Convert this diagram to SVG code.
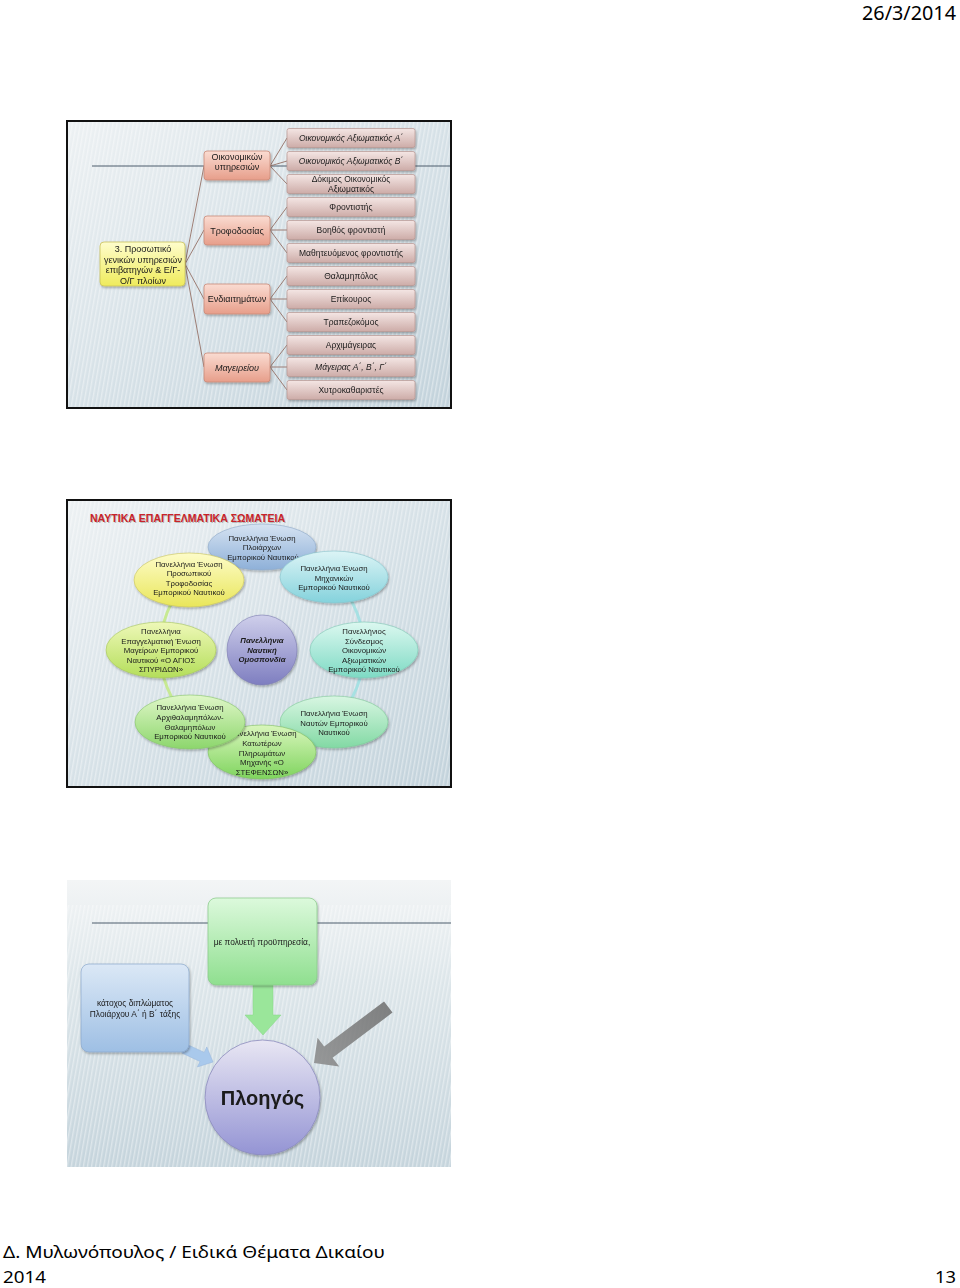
<svg xmlns="http://www.w3.org/2000/svg" width="960" height="1288" viewBox="0 0 960 1288">
<style>
.t{font-family:"Liberation Sans",Arial,sans-serif;fill:#1a1a1a;text-anchor:middle}
.s2{font-size:9px}
.s3{font-size:8.5px}
.se{font-size:7.8px}
.conn{stroke:#9c7d74;stroke-width:1;fill:none}
.deco{stroke:#4d5d6c;stroke-width:1}
.hdr{font-family:"Noto Sans","Liberation Sans",sans-serif;font-size:19px;fill:#000}
.ftr{font-family:"Noto Sans","Liberation Sans",sans-serif;font-size:17px;fill:#000}
</style>
<defs>
<linearGradient id="bg" x1="0" y1="0" x2="1" y2="1">
<stop offset="0" stop-color="#edf1f3"/><stop offset="0.5" stop-color="#d6e1e7"/><stop offset="1" stop-color="#c2d2db"/>
</linearGradient>
<linearGradient id="bg3" x1="0" y1="0" x2="0" y2="1">
<stop offset="0" stop-color="#f3f5f6"/><stop offset="0.35" stop-color="#dde6ea"/><stop offset="1" stop-color="#c5d4dc"/>
</linearGradient>
<pattern id="stripes" width="4" height="8" patternUnits="userSpaceOnUse" patternTransform="rotate(10)">
<rect width="1.4" height="8" fill="#ffffff" opacity="0.4"/>
</pattern>
<linearGradient id="g2" x1="0" y1="0" x2="0" y2="1"><stop offset="0" stop-color="#fadcd2"/><stop offset="1" stop-color="#e79e8a"/></linearGradient>
<linearGradient id="g3" x1="0" y1="0" x2="0" y2="1"><stop offset="0" stop-color="#f4e6e4"/><stop offset="1" stop-color="#cdaca8"/></linearGradient>
<linearGradient id="gr" x1="0" y1="0" x2="0" y2="1"><stop offset="0" stop-color="#fefdcc"/><stop offset="1" stop-color="#efeb5c"/></linearGradient>
<linearGradient id="eBlue" x1="0" y1="0" x2="0" y2="1"><stop offset="0" stop-color="#d6e3f2"/><stop offset="1" stop-color="#8eb0d8"/></linearGradient>
<linearGradient id="eYel" x1="0" y1="0" x2="0" y2="1"><stop offset="0" stop-color="#fdfcc8"/><stop offset="1" stop-color="#e9e65a"/></linearGradient>
<linearGradient id="eCyan" x1="0" y1="0" x2="0" y2="1"><stop offset="0" stop-color="#dcf4f6"/><stop offset="1" stop-color="#84d2dc"/></linearGradient>
<linearGradient id="eLime" x1="0" y1="0" x2="0" y2="1"><stop offset="0" stop-color="#eef8b8"/><stop offset="1" stop-color="#b4de5a"/></linearGradient>
<linearGradient id="ePur" x1="0" y1="0" x2="0" y2="1"><stop offset="0" stop-color="#cfcfeb"/><stop offset="1" stop-color="#7e7ec0"/></linearGradient>
<linearGradient id="eAqua" x1="0" y1="0" x2="0" y2="1"><stop offset="0" stop-color="#dcf8f0"/><stop offset="1" stop-color="#7edac4"/></linearGradient>
<linearGradient id="eGreen" x1="0" y1="0" x2="0" y2="1"><stop offset="0" stop-color="#e0f7c8"/><stop offset="1" stop-color="#8cd66c"/></linearGradient>
<linearGradient id="eMint" x1="0" y1="0" x2="0" y2="1"><stop offset="0" stop-color="#d8f6e2"/><stop offset="1" stop-color="#82d9a4"/></linearGradient>
<linearGradient id="eGreen2" x1="0" y1="0" x2="0" y2="1"><stop offset="0" stop-color="#d9f6bc"/><stop offset="1" stop-color="#7fd45e"/></linearGradient>
<linearGradient id="ring" x1="0" y1="0" x2="1" y2="0"><stop offset="0" stop-color="#c6ea86"/><stop offset="1" stop-color="#9fe0e6"/></linearGradient>
<linearGradient id="bGreen" x1="0" y1="0" x2="0" y2="1"><stop offset="0" stop-color="#dcf9dc"/><stop offset="1" stop-color="#8fdf8f"/></linearGradient>
<linearGradient id="bBlue" x1="0" y1="0" x2="0" y2="1"><stop offset="0" stop-color="#dbe8f6"/><stop offset="1" stop-color="#9ebfe4"/></linearGradient>
<linearGradient id="cPur" x1="0" y1="0" x2="0" y2="1"><stop offset="0" stop-color="#e8e6f3"/><stop offset="1" stop-color="#9494d4"/></linearGradient>
<linearGradient id="aGray" x1="0" y1="0" x2="1" y2="0"><stop offset="0" stop-color="#6e6e6e"/><stop offset="1" stop-color="#8a8a8a"/></linearGradient>
<filter id="sh" x="-20%" y="-20%" width="140%" height="160%"><feDropShadow dx="1" dy="1.5" stdDeviation="1" flood-color="#000" flood-opacity="0.3"/></filter>
</defs>

<rect width="960" height="1288" fill="#ffffff"/>
<text class="hdr" x="956" y="20" text-anchor="end" textLength="94" lengthAdjust="spacingAndGlyphs">26/3/2014</text>

<!-- ===== Slide 1 ===== -->
<g id="slide1">
<rect x="67" y="121" width="384" height="287" fill="url(#bg)"/>
<rect x="67" y="121" width="384" height="287" fill="url(#stripes)"/>
<line class="deco" x1="92" y1="166" x2="451" y2="166"/>
<g id="connectors1">
<line class="conn" x1="185" y1="264" x2="204" y2="166"/>
<line class="conn" x1="185" y1="264" x2="204" y2="230"/>
<line class="conn" x1="185" y1="264" x2="204" y2="299"/>
<line class="conn" x1="185" y1="264" x2="204" y2="367"/>
<line class="conn" x1="270" y1="166" x2="287" y2="138"/>
<line class="conn" x1="270" y1="166" x2="287" y2="161"/>
<line class="conn" x1="270" y1="166" x2="287" y2="184"/>
<line class="conn" x1="270" y1="230" x2="287" y2="207"/>
<line class="conn" x1="270" y1="230" x2="287" y2="230"/>
<line class="conn" x1="270" y1="230" x2="287" y2="253"/>
<line class="conn" x1="270" y1="299" x2="287" y2="276"/>
<line class="conn" x1="270" y1="299" x2="287" y2="299"/>
<line class="conn" x1="270" y1="299" x2="287" y2="322"/>
<line class="conn" x1="270" y1="367" x2="287" y2="345"/>
<line class="conn" x1="270" y1="367" x2="287" y2="367"/>
<line class="conn" x1="270" y1="367" x2="287" y2="390"/>
</g>
<g id="root" filter="url(#sh)">
<rect x="100" y="242" width="85" height="44" rx="4" fill="url(#gr)" stroke="#c9c25c" stroke-width="0.8"/>
<text class="t s2" x="143" y="252">3. Προσωπικό</text>
<text class="t s2" x="143" y="262.5">γενικών υπηρεσιών</text>
<text class="t s2" x="143" y="273">επιβατηγών &amp; Ε/Γ-</text>
<text class="t s2" x="143" y="283.5">Ο/Γ πλοίων</text>
</g>
<g id="l2-oik" filter="url(#sh)"><rect x="204" y="151" width="66" height="29" rx="3" fill="url(#g2)" stroke="#c98a78" stroke-width="0.8"/>
<text class="t s2" x="237" y="159.5">Οικονομικών</text><text class="t s2" x="237" y="170">υπηρεσιών</text></g>
<g id="l2-trof" filter="url(#sh)"><rect x="204" y="216" width="66" height="29" rx="3" fill="url(#g2)" stroke="#c98a78" stroke-width="0.8"/>
<text class="t s2" x="237" y="233.5">Τροφοδοσίας</text></g>
<g id="l2-end" filter="url(#sh)"><rect x="204" y="284" width="66" height="30" rx="3" fill="url(#g2)" stroke="#c98a78" stroke-width="0.8"/>
<text class="t s2" x="237" y="302">Ενδιαιτημάτων</text></g>
<g id="l2-mag" filter="url(#sh)"><rect x="204" y="353" width="66" height="29" rx="3" fill="url(#g2)" stroke="#c98a78" stroke-width="0.8"/>
<text class="t s2" x="237" y="370.5" font-style="italic">Μαγειρείου</text></g>

<g id="l3-1" filter="url(#sh)"><rect x="287" y="128.5" width="128" height="19" rx="2" fill="url(#g3)" stroke="#b89590" stroke-width="0.7"/><text class="t s3" x="351" y="141" font-style="italic">Οικονομικός Αξιωματικός Α΄</text></g>
<g id="l3-2" filter="url(#sh)"><rect x="287" y="151.5" width="128" height="19" rx="2" fill="url(#g3)" stroke="#b89590" stroke-width="0.7"/><text class="t s3" x="351" y="164" font-style="italic">Οικονομικός Αξιωματικός Β΄</text></g>
<g id="l3-3" filter="url(#sh)"><rect x="287" y="174.5" width="128" height="19" rx="2" fill="url(#g3)" stroke="#b89590" stroke-width="0.7"/><text class="t s3" x="351" y="182">Δόκιμος Οικονομικός</text><text class="t s3" x="351" y="191.5">Αξιωματικός</text></g>
<g id="l3-4" filter="url(#sh)"><rect x="287" y="197.5" width="128" height="19" rx="2" fill="url(#g3)" stroke="#b89590" stroke-width="0.7"/><text class="t s3" x="351" y="210">Φροντιστής</text></g>
<g id="l3-5" filter="url(#sh)"><rect x="287" y="220.5" width="128" height="19" rx="2" fill="url(#g3)" stroke="#b89590" stroke-width="0.7"/><text class="t s3" x="351" y="233">Βοηθός φροντιστή</text></g>
<g id="l3-6" filter="url(#sh)"><rect x="287" y="243.5" width="128" height="19" rx="2" fill="url(#g3)" stroke="#b89590" stroke-width="0.7"/><text class="t s3" x="351" y="256">Μαθητευόμενος φροντιστής</text></g>
<g id="l3-7" filter="url(#sh)"><rect x="287" y="266.5" width="128" height="19" rx="2" fill="url(#g3)" stroke="#b89590" stroke-width="0.7"/><text class="t s3" x="351" y="279">Θαλαμηπόλος</text></g>
<g id="l3-8" filter="url(#sh)"><rect x="287" y="289.5" width="128" height="19" rx="2" fill="url(#g3)" stroke="#b89590" stroke-width="0.7"/><text class="t s3" x="351" y="302">Επίκουρος</text></g>
<g id="l3-9" filter="url(#sh)"><rect x="287" y="312.5" width="128" height="19" rx="2" fill="url(#g3)" stroke="#b89590" stroke-width="0.7"/><text class="t s3" x="351" y="325">Τραπεζοκόμος</text></g>
<g id="l3-10" filter="url(#sh)"><rect x="287" y="335.5" width="128" height="19" rx="2" fill="url(#g3)" stroke="#b89590" stroke-width="0.7"/><text class="t s3" x="351" y="348">Αρχιμάγειρας</text></g>
<g id="l3-11" filter="url(#sh)"><rect x="287" y="357.5" width="128" height="19" rx="2" fill="url(#g3)" stroke="#b89590" stroke-width="0.7"/><text class="t s3" x="351" y="370" font-style="italic">Μάγειρας Α΄, Β΄, Γ΄</text></g>
<g id="l3-12" filter="url(#sh)"><rect x="287" y="380.5" width="128" height="19" rx="2" fill="url(#g3)" stroke="#b89590" stroke-width="0.7"/><text class="t s3" x="351" y="393">Χυτροκαθαριστές</text></g>
<rect x="67" y="121" width="384" height="287" fill="none" stroke="#111" stroke-width="2"/>
</g>

<!-- ===== Slide 2 ===== -->
<g id="slide2">
<rect x="67" y="500" width="384" height="287" fill="url(#bg)"/>
<rect x="67" y="500" width="384" height="287" fill="url(#stripes)"/>
<text x="91" y="523" font-family="'Liberation Sans',Arial,sans-serif" font-size="10.5" font-weight="bold" fill="#9a9a9a" opacity="0.6" textLength="195" lengthAdjust="spacingAndGlyphs">ΝΑΥΤΙΚΑ ΕΠΑΓΓΕΛΜΑΤΙΚΑ ΣΩΜΑΤΕΙΑ</text>
<text x="90" y="522" font-family="'Liberation Sans',Arial,sans-serif" font-size="10.5" font-weight="bold" fill="#c8232a" textLength="195" lengthAdjust="spacingAndGlyphs">ΝΑΥΤΙΚΑ ΕΠΑΓΓΕΛΜΑΤΙΚΑ ΣΩΜΑΤΕΙΑ</text>
<g id="connectors2">
<circle cx="262" cy="650" r="102" fill="none" stroke="url(#ring)" stroke-width="3" opacity="0.9"/>
</g>
<g id="n-ploiarchon" filter="url(#sh)"><ellipse cx="262" cy="547" rx="54" ry="23" fill="url(#eBlue)" stroke="#8fa9c8" stroke-width="0.6"/>
<text class="t se" x="262" y="540.5">Πανελλήνια Ένωση</text><text class="t se" x="262" y="550">Πλοιάρχων</text><text class="t se" x="263" y="559.5">Εμπορικού Ναυτικού</text></g>
<g id="n-michanikon" filter="url(#sh)"><ellipse cx="334" cy="577" rx="54" ry="26" fill="url(#eCyan)" stroke="#86c3cb" stroke-width="0.6"/>
<text class="t se" x="334" y="571">Πανελλήνια Ένωση</text><text class="t se" x="334" y="580.5">Μηχανικών</text><text class="t se" x="334" y="590">Εμπορικού Ναυτικού</text></g>
<g id="n-oikonomikon" filter="url(#sh)"><ellipse cx="364" cy="650" rx="54" ry="28" fill="url(#eAqua)" stroke="#80c8b6" stroke-width="0.6"/>
<text class="t se" x="364" y="634">Πανελλήνιος</text><text class="t se" x="364" y="644">Σύνδεσμος</text><text class="t se" x="364" y="653">Οικονομικών</text><text class="t se" x="364" y="663">Αξιωματικών</text><text class="t se" x="364" y="672">Εμπορικού Ναυτικού</text></g>
<g id="n-nauton" filter="url(#sh)"><ellipse cx="334" cy="722" rx="54" ry="26" fill="url(#eMint)" stroke="#80c898" stroke-width="0.6"/>
<text class="t se" x="334" y="716">Πανελλήνια Ένωση</text><text class="t se" x="334" y="725.5">Ναυτών Εμπορικού</text><text class="t se" x="334" y="735">Ναυτικού</text></g>
<g id="n-katoteron" filter="url(#sh)"><ellipse cx="262" cy="752" rx="54" ry="27" fill="url(#eGreen2)" stroke="#7fc062" stroke-width="0.6"/>
<text class="t se" x="263" y="736">Πανελλήνια Ένωση</text><text class="t se" x="262" y="746">Κατωτέρων</text><text class="t se" x="262" y="755.5">Πληρωμάτων</text><text class="t se" x="262" y="765">Μηχανής «Ο</text><text class="t se" x="262" y="774.5">ΣΤΕΦΕΝΣΩΝ»</text></g>
<g id="n-archithal" filter="url(#sh)"><ellipse cx="190" cy="722" rx="55" ry="27" fill="url(#eGreen)" stroke="#86c46a" stroke-width="0.6"/>
<text class="t se" x="190" y="710">Πανελλήνια Ένωση</text><text class="t se" x="190" y="720">Αρχιθαλαμηπόλων-</text><text class="t se" x="190" y="730">Θαλαμηπόλων</text><text class="t se" x="190" y="739">Εμπορικού Ναυτικού</text></g>
<g id="n-mageiron" filter="url(#sh)"><ellipse cx="161" cy="650" rx="55" ry="28" fill="url(#eLime)" stroke="#a6c65a" stroke-width="0.6"/>
<text class="t se" x="161" y="634">Πανελλήνια</text><text class="t se" x="161" y="643.5">Επαγγελματική Ένωση</text><text class="t se" x="161" y="653">Μαγείρων Εμπορικού</text><text class="t se" x="161" y="662.5">Ναυτικού «Ο ΑΓΙΟΣ</text><text class="t se" x="161" y="672">ΣΠΥΡΙΔΩΝ»</text></g>
<g id="n-trofodosias" filter="url(#sh)"><ellipse cx="189" cy="580" rx="55" ry="27" fill="url(#eYel)" stroke="#c9c55a" stroke-width="0.6"/>
<text class="t se" x="189" y="566.5">Πανελλήνια Ένωση</text><text class="t se" x="189" y="576">Προσωπικού</text><text class="t se" x="189" y="585.5">Τροφοδοσίας</text><text class="t se" x="189" y="595">Εμπορικού Ναυτικού</text></g>
<g id="n-omospondia" filter="url(#sh)"><circle cx="262" cy="650" r="35" fill="url(#ePur)" stroke="#7a7ab0" stroke-width="0.6"/>
<text class="t se" x="262" y="643" font-weight="bold" font-style="italic">Πανελλήνια</text><text class="t se" x="262" y="653" font-weight="bold" font-style="italic">Ναυτική</text><text class="t se" x="262" y="662" font-weight="bold" font-style="italic">Ομοσπονδία</text></g>
<rect x="67" y="500" width="384" height="287" fill="none" stroke="#111" stroke-width="2"/>
</g>

<!-- ===== Slide 3 ===== -->
<g id="slide3">
<rect x="67" y="880" width="384" height="287" fill="url(#bg3)"/>
<rect x="67" y="905" width="384" height="262" fill="url(#stripes)"/>
<line class="deco" x1="92" y1="923" x2="451" y2="923"/>
<g id="connectors3">
<polygon points="0,0 -12,-11 -12,-5 -32,-5 -32,5 -12,5 -12,11" transform="translate(213,1062) rotate(25)" fill="#a9c9ec" stroke="#98b8dc" stroke-width="0.5"/>
<polygon points="245,1015 253,1015 253,985 273,985 273,1015 281,1015 263,1035" fill="#9ae69a" stroke="#86d486" stroke-width="0.5"/>
<polygon points="0,0 -18,-18 -18,-7 -93,-7 -93,7 -18,7 -18,18" transform="translate(314,1063) rotate(143)" fill="url(#aGray)" opacity="0.85"/>
</g>
<g id="n-polyeti" filter="url(#sh)"><rect x="208" y="898" width="109" height="87" rx="8" fill="url(#bGreen)" stroke="#86c886" stroke-width="0.7"/>
<text class="t" x="262" y="945" font-size="8.4">με πολυετή προϋπηρεσία,</text></g>
<g id="n-katochos" filter="url(#sh)"><rect x="81" y="964" width="108" height="88" rx="8" fill="url(#bBlue)" stroke="#8aa8cc" stroke-width="0.7"/>
<text class="t" x="135" y="1006" font-size="8.4">κάτοχος διπλώματος</text><text class="t" x="135" y="1017" font-size="8.4">Πλοιάρχου Α΄ ή Β΄ τάξης</text></g>
<g id="n-ploigos" filter="url(#sh)"><circle cx="262.5" cy="1097.5" r="57.5" fill="url(#cPur)" stroke="#8c8cbc" stroke-width="0.8"/>
<text class="t" x="262.5" y="1105" font-size="20" font-weight="bold" fill="#000">Πλοηγός</text></g>
</g>

<text class="ftr" x="3" y="1258" textLength="382" lengthAdjust="spacingAndGlyphs">Δ. Μυλωνόπουλος / Ειδικά Θέματα Δικαίου</text>
<text class="ftr" x="3" y="1283" textLength="43" lengthAdjust="spacingAndGlyphs">2014</text>
<text class="ftr" x="956" y="1283" text-anchor="end" textLength="21" lengthAdjust="spacingAndGlyphs">13</text>
</svg>
